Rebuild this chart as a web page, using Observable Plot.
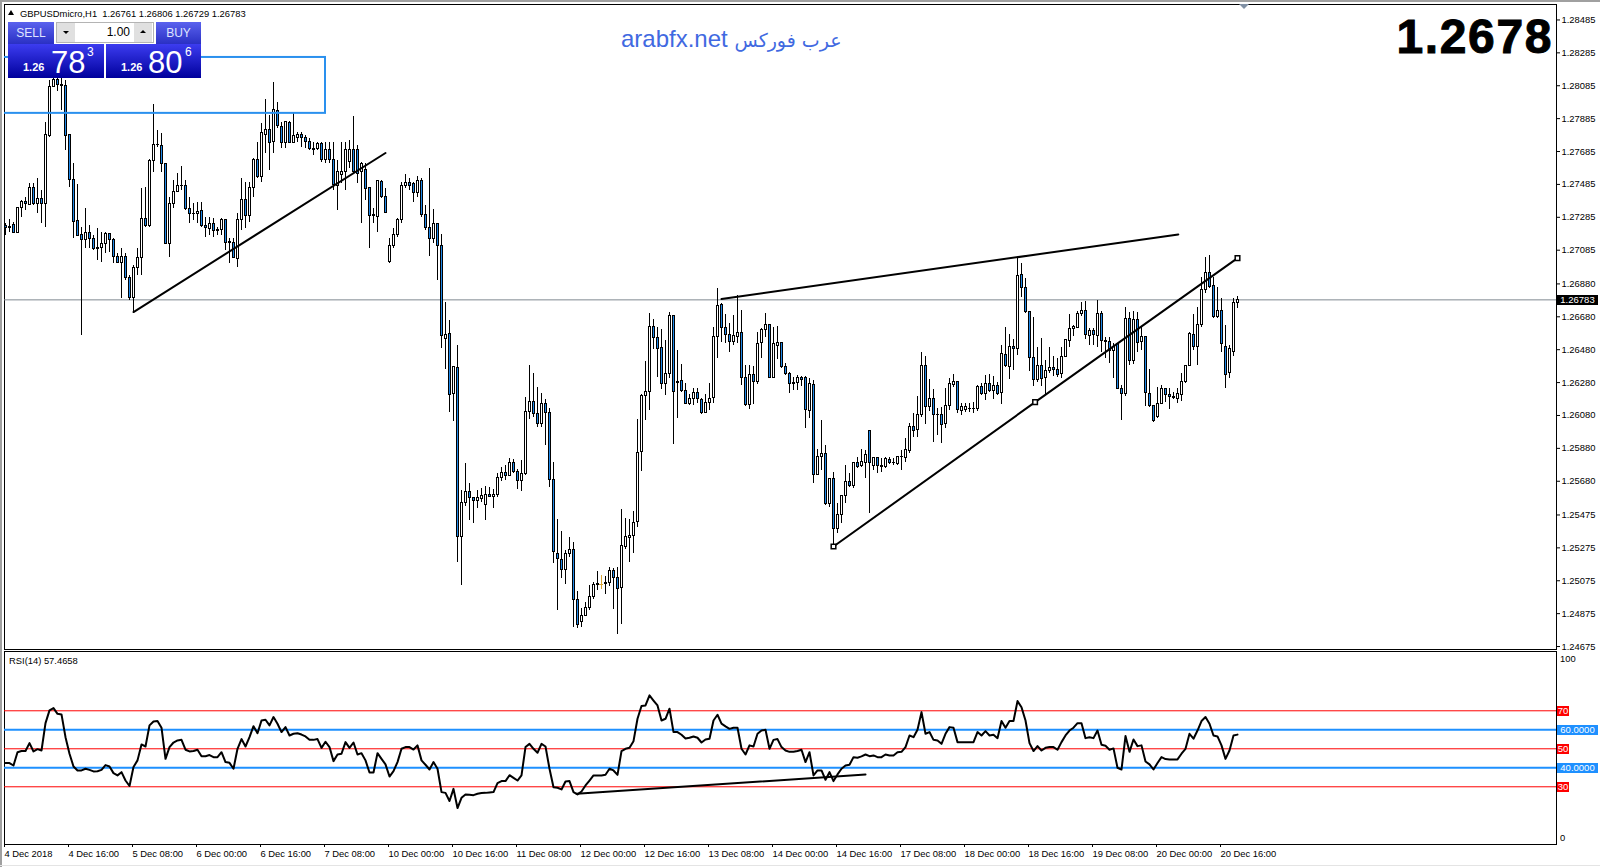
<!DOCTYPE html>
<html><head><meta charset="utf-8">
<script src="https://cdn.jsdelivr.net/npm/d3@7"></script>
<script src="https://cdn.jsdelivr.net/npm/@observablehq/plot@0.6"></script>
<style>
html,body{margin:0;padding:0;background:#fff;width:1600px;height:867px;overflow:hidden}
#wrap{position:relative;width:1600px;height:867px;font-family:"Liberation Sans",Arial,sans-serif;color:#000}
#wrap svg{position:absolute;left:0;background:transparent}
.abs{position:absolute;white-space:nowrap}
.tag{position:absolute;left:1557px;height:10px;line-height:10px;font-size:9.5px;color:#fff;text-align:center}
</style></head><body><div id="wrap"></div>
<script>
// Prices are written in 1e-5 units above 1 (26783 = 1.26783); one entry per H1 bar.
const openPts = [
27232,27226,27240,27189,27343,27376,27357,27465,27363,27396,
27363,27777,28077,28118,28087,28081,27783,27513,27260,27175,
27149,27191,27151,27090,27100,27120,27181,27145,27041,27007,
27041,26918,26794,26978,27039,27276,27232,27629,27726,27720,
27611,27120,27368,27441,27473,27477,27337,27303,27307,27323,
27232,27215,27246,27201,27205,27266,27130,27130,27033,27266,
27392,27295,27465,27635,27530,27787,27817,27742,27933,27834,
27736,27860,27736,27767,27785,27769,27745,27698,27698,27728,
27635,27696,27635,27473,27542,27562,27621,27692,27696,27560,
27574,27465,27293,27286,27497,27408,27013,27108,27179,27270,
27477,27493,27485,27434,27507,27301,27222,27155,27246,27112,
26547,26577,26212,26370,25341,25547,25616,25578,25560,25572,
25535,25598,25584,25596,25702,25732,25714,25793,25738,25683,
25724,26103,26164,26091,26028,26151,26097,25689,25239,25203,
25142,25239,25264,24960,24824,24862,24911,24978,25051,25055,
25055,25061,25136,25093,25031,25280,25335,25347,25432,25858,
26198,26222,26620,26553,26492,26273,26334,26686,26280,26291,
26230,26149,26180,26218,26176,26095,26155,26186,26557,26753,
26613,26571,26526,26557,26583,26309,26141,26328,26283,26520,
26601,26632,26309,26504,26522,26376,26334,26273,26279,26309,
26309,26110,26266,25721,25826,25847,25539,25691,25391,25476,
25591,25676,25650,25792,25770,25794,25987,25774,25822,25772,
25766,25810,25792,25786,25826,25822,25867,26011,25989,26080,
26382,26130,26179,26084,26084,26029,26137,26268,26283,26106,
26116,26122,26122,26118,26256,26212,26272,26228,26260,26216,
26449,26374,26495,26485,26935,26856,26710,26431,26293,26382,
26307,26351,26368,26358,26333,26435,26532,26607,26613,26696,
26716,26564,26595,26566,26698,26532,26528,26471,26516,26242,
26210,26666,26410,26658,26526,26558,26212,26137,26070,26151,
26240,26206,26191,26181,26204,26283,26380,26570,26495,26628,
26841,26948,26869,26678,26713,26494,26336,26463,26761];
const highPts = [
27246,27270,27256,27345,27388,27408,27493,27489,27520,27449,
27864,28118,28138,28142,28128,28118,27783,27611,27483,27226,
27337,27236,27175,27215,27195,27195,27185,27155,27063,27094,
27063,26932,26992,27094,27459,27469,27635,27972,27813,27793,
27611,27408,27509,27550,27591,27509,27408,27368,27378,27378,
27286,27286,27276,27226,27276,27270,27155,27155,27307,27520,
27499,27499,27641,27742,27854,28000,27905,28103,27986,27864,
27864,27870,27915,27803,27803,27783,27763,27742,27742,27742,
27742,27742,27742,27631,27742,27742,27753,27895,27722,27620,
27611,27465,27337,27509,27509,27459,27155,27215,27276,27497,
27546,27520,27499,27534,27520,27357,27580,27331,27246,27181,
26765,26658,26378,26506,25624,25787,25665,25584,25624,25635,
25649,25645,25629,25726,25766,25776,25817,25811,25750,25807,
26192,26385,26334,26249,26212,26176,26121,25793,25446,25375,
25260,25337,25306,25012,24905,24941,25045,25065,25132,25108,
25101,25154,25148,25156,25509,25452,25448,25497,26054,26205,
26409,26699,26664,26617,26603,26536,26705,26690,26476,26390,
26273,26208,26245,26245,26182,26208,26273,26617,26853,26760,
26695,26640,26688,26810,26719,26386,26384,26380,26587,26607,
26699,26632,26613,26622,26526,26395,26344,26309,26324,26317,
26317,26303,26293,25871,26049,25897,25695,25731,25543,25593,
25776,25725,25796,25826,25871,25867,25987,25826,25826,25816,
25826,25826,25816,25830,25867,25938,26033,26090,26195,26461,
26439,26297,26236,26120,26130,26242,26303,26327,26289,26151,
26151,26155,26157,26262,26272,26323,26327,26317,26283,26505,
26613,26572,26542,27043,27002,26911,26710,26674,26491,26546,
26414,26495,26439,26424,26495,26540,26694,26627,26712,26769,
26773,26607,26611,26779,26712,26556,26556,26516,26516,26262,
26739,26708,26712,26708,26613,26560,26357,26141,26248,26262,
26242,26242,26222,26242,26333,26380,26587,26694,26735,26922,
27043,27053,26922,26861,26790,26628,26506,26794,26806];
const lowPts = [
27175,27195,27185,27185,27286,27327,27355,27357,27307,27246,
27226,27769,28073,28047,27935,27692,27469,27155,27171,26567,
27094,27094,27084,27023,27013,27063,27074,27003,27003,26790,
26901,26780,26709,26932,26932,27226,27226,27560,27712,27560,
27124,27043,27337,27438,27449,27327,27246,27266,27246,27226,
27165,27175,27165,27175,27175,27084,27003,27033,26982,27205,
27215,27256,27408,27520,27499,27672,27570,27672,27824,27702,
27702,27732,27732,27742,27712,27702,27692,27661,27692,27621,
27615,27611,27449,27327,27493,27449,27580,27550,27489,27246,
27388,27094,27246,27195,27398,27307,27003,27094,27161,27250,
27459,27445,27378,27408,27286,27205,27047,27128,26901,26490,
26360,26101,26046,25189,25047,25527,25442,25426,25517,25549,
25442,25580,25515,25584,25681,25685,25710,25730,25631,25620,
25716,26058,26066,26004,26004,25898,25645,25179,24895,25087,
25053,25219,24793,24787,24793,24858,24895,24964,25016,25022,
24992,25041,24903,24749,24810,25266,25183,25243,25401,25740,
26050,26111,26482,26309,26238,26202,26303,25904,26060,26222,
26149,26141,26141,26151,26086,26090,26111,26151,26429,26524,
26516,26465,26506,26520,26265,26137,26119,26145,26269,26425,
26557,26309,26307,26419,26364,26324,26212,26232,26232,26258,
25999,26060,25664,25715,25745,25532,25522,25283,25360,25421,
25543,25644,25634,25760,25766,25695,25486,25745,25725,25735,
25755,25782,25776,25776,25745,25796,25847,25944,25948,26070,
26025,26106,25918,25958,25912,25999,26110,26252,26090,26080,
26100,26100,26090,26106,26201,26171,26222,26175,26201,26147,
26374,26299,26353,26445,26799,26702,26349,26258,26283,26258,
26201,26333,26317,26309,26303,26431,26495,26560,26607,26682,
26540,26505,26505,26495,26465,26424,26394,26303,26238,26049,
26195,26384,26390,26465,26475,26137,26130,26039,26060,26147,
26161,26116,26175,26151,26167,26272,26378,26475,26384,26618,
26820,26855,26668,26668,26463,26244,26306,26440,26729];
const closePts = [
27220,27222,27189,27343,27376,27368,27465,27363,27396,27363,
27783,28077,28118,28087,28081,27779,27509,27256,27171,27149,
27191,27153,27090,27100,27120,27181,27149,27043,27007,27041,
26918,26794,26978,27039,27276,27232,27629,27726,27722,27611,
27124,27368,27441,27473,27477,27335,27303,27307,27319,27232,
27217,27246,27201,27209,27266,27130,27134,27039,27266,27392,
27295,27465,27635,27530,27799,27817,27736,27939,27838,27736,
27862,27736,27777,27785,27767,27742,27698,27692,27728,27631,
27696,27635,27479,27562,27562,27692,27692,27560,27550,27611,
27459,27293,27299,27505,27408,27313,27110,27179,27266,27477,
27493,27477,27434,27505,27301,27222,27155,27246,27112,26561,
26571,26206,26372,25341,25547,25616,25578,25560,25578,25592,
25598,25584,25598,25702,25732,25714,25793,25736,25683,25726,
26103,26164,26089,26028,26151,26097,25689,25249,25207,25142,
25239,25264,24960,24806,24862,24911,24978,25051,25057,25055,
25059,25136,25091,25024,25288,25341,25349,25428,25854,26200,
26224,26620,26551,26484,26273,26334,26686,26222,26283,26228,
26149,26182,26218,26180,26095,26157,26182,26559,26747,26613,
26571,26526,26565,26583,26309,26141,26328,26283,26516,26601,
26632,26309,26516,26522,26374,26334,26273,26277,26309,26295,
26114,26272,25721,25826,25845,25543,25691,25391,25476,25591,
25676,25652,25792,25766,25798,25841,25790,25822,25772,25768,
25816,25792,25788,25826,25830,25871,26011,25987,26084,26382,
26130,26181,26084,26080,26023,26139,26272,26283,26114,26133,
26130,26118,26120,26256,26210,26272,26228,26260,26210,26455,
26378,26495,26485,26931,26854,26708,26431,26297,26382,26299,
26351,26368,26355,26327,26437,26536,26607,26617,26700,26716,
26568,26595,26568,26698,26532,26528,26475,26499,26242,26210,
26666,26410,26662,26522,26558,26216,26137,26045,26151,26240,
26206,26191,26185,26208,26283,26380,26576,26499,26629,26845,
26948,26861,26678,26713,26512,26324,26482,26761,26783];
const rsiValues = [
42.5,42.5,41.2,48.2,48.8,48.8,53.0,48.6,49.8,49.1,
63.5,70.2,71.4,68.4,68.1,56.1,47.4,40.7,38.6,38.6,
39.5,38.9,38.1,38.2,38.9,41.4,40.7,37.2,36.0,37.7,
33.3,30.4,40.4,43.9,52.3,51.2,62.3,64.4,64.6,61.1,
44.7,50.9,53.3,54.4,54.7,49.5,48.6,48.8,49.5,46.1,
46.1,46.7,45.6,45.6,48.2,43.0,42.6,39.5,50.0,55.1,
51.2,56.1,61.9,58.2,64.9,65.3,62.3,66.7,63.2,58.8,
61.4,57.0,57.9,58.2,57.5,56.5,54.7,54.7,55.1,50.5,
53.7,50.9,43.5,47.0,47.4,53.5,50.5,53.3,47.0,47.7,
43.9,37.5,37.5,47.7,44.7,41.8,35.4,38.2,43.0,
50.0,50.9,50.9,49.6,51.8,43.9,41.6,39.1,43.0,39.5,
27.2,26.8,22.5,28.9,18.8,24.2,26.0,25.8,25.6,26.3,
26.7,26.8,27.0,27.2,31.9,33.0,33.0,36.1,34.7,33.3,
36.0,50.9,52.6,50.0,47.9,52.6,51.2,39.5,29.8,29.5,
28.6,32.8,33.0,27.2,26.0,27.5,30.7,33.3,36.0,36.0,
36.0,36.3,39.5,38.6,36.3,48.8,50.0,50.5,54.0,65.8,
72.5,72.8,78.1,75.4,72.8,64.9,65.8,71.1,58.8,58.8,
57.4,55.4,55.8,56.5,55.8,53.3,54.9,55.3,64.9,67.9,
63.2,61.8,60.5,61.1,61.1,50.0,47.0,51.8,51.2,57.9,
59.6,60.0,50.0,54.7,55.1,50.9,49.1,48.4,48.4,48.8,
49.5,43.0,48.2,36.0,38.6,
38.6,33.7,37.7,33.0,36.5,39.5,41.2,41.6,45.6,45.3,
46.0,47.0,46.1,46.5,45.6,45.6,47.0,46.5,46.5,48.2,
48.4,50.9,57.0,56.1,60.0,69.3,57.9,58.8,54.7,54.4,
52.6,57.9,61.4,61.1,53.5,53.5,53.5,53.5,53.5,58.8,
57.0,59.3,57.0,57.4,55.6,64.6,61.1,64.6,64.6,75.1,
71.9,64.9,53.0,48.8,51.4,49.1,50.5,50.9,50.9,49.5,
53.5,57.0,59.6,61.1,63.5,63.5,55.6,56.1,55.6,59.6,
52.1,51.6,49.5,50.2,40.0,39.1,56.7,48.4,54.9,51.4,
51.8,43.3,41.8,39.1,42.5,45.6,44.6,44.4,44.4,44.4,
47.4,50.0,57.9,55.3,59.6,64.6,66.7,63.2,57.0,56.5,
51.8,44.7,49.1,57.0,57.4658];
const priceTicks = [1.28485,1.28285,1.28085,1.27885,1.27685,1.27485,1.27285,1.27085,1.26880,1.26680,1.26480,1.26280,1.26080,1.25880,1.25680,1.25475,1.25275,1.25075,1.24875,1.24675];
const timeLabels = ["4 Dec 2018","4 Dec 16:00","5 Dec 08:00","6 Dec 00:00","6 Dec 16:00","7 Dec 08:00","10 Dec 00:00","10 Dec 16:00","11 Dec 08:00","12 Dec 00:00","12 Dec 16:00","13 Dec 08:00","14 Dec 00:00","14 Dec 16:00","17 Dec 08:00","18 Dec 00:00","18 Dec 16:00","19 Dec 08:00","20 Dec 00:00","20 Dec 16:00"];
const barsPerLabel = 16;
const lastPrice = 1.26783;
const redLevels = [70,50,30];
const blueLevels = [60,40];
// Trend lines, as [bar, value]
const trendA = [[32,1.26709],[95,1.27676]];
const trendB = [[179,1.26788],[293.2,1.27181]];
const trendC = [[207,1.25283],[257.4,1.26161],[308,1.27037]];
const trendRsi = [[142.8,26.3],[215,36.5]];
const zone = {x1:-4,x2:80,y1:1.27917,y2:1.28257};

const FONT='"Liberation Sans",Arial,sans-serif';
const SMALL="9.4px";
const BLUE="#1e88e8", LEVEL="#1e90ff";
const p=v=>1+v/1e5;
const bars=closePts.map((c,i)=>({i,open:p(openPts[i]),high:p(highPts[i]),low:p(lowPts[i]),close:p(c)}));
const up=bars.filter(d=>d.close>d.open), down=bars.filter(d=>d.close<d.open), doji=bars.filter(d=>d.close===d.open);
const xOpts={type:"linear",domain:[-0.25,387.75]};
const candle=(data,fill)=>Plot.rect(data,{x1:d=>d.i-0.25,x2:d=>d.i+0.25,y1:"open",y2:"close",fill,stroke:"#000",strokeWidth:1,shapeRendering:"crispEdges"});
const pts=a=>a.map(([x,y])=>({x,y}));

const main=Plot.plot({
  width:1600,height:650,marginLeft:4,marginRight:44,marginTop:4,marginBottom:1,
  style:{fontFamily:FONT,fontSize:SMALL,background:"transparent",color:"#000",overflow:"visible"},
  x:{...xOpts,axis:null},
  y:{type:"linear",domain:[1.24657,1.28579],axis:null},
  marks:[
    Plot.frame({stroke:"#000"}),
    Plot.ruleY([lastPrice],{stroke:"#7f8890",strokeWidth:1}),
    Plot.ruleX(bars.filter(d=>d.close!==d.open),{x:"i",y1:"low",y2:"high",stroke:"#000",strokeWidth:1,shapeRendering:"crispEdges",clip:true}),
    Plot.ruleX(doji,{x:"i",y1:"low",y2:"high",stroke:"#d9a536",strokeWidth:1,shapeRendering:"crispEdges"}),
    Plot.ruleY(doji,{x1:d=>d.i-0.4,x2:d=>d.i+0.4,y:"close",stroke:"#d9a536",strokeWidth:1,shapeRendering:"crispEdges"}),
    candle(up,"#fff"),
    candle(down,BLUE),
    Plot.rect([zone],{x1:"x1",x2:"x2",y1:"y1",y2:"y2",fill:"none",stroke:"#2a90ee",strokeWidth:2,clip:true}),
    Plot.line(pts(trendA),{x:"x",y:"y",stroke:"#000",strokeWidth:2}),
    Plot.line(pts(trendB),{x:"x",y:"y",stroke:"#000",strokeWidth:2}),
    Plot.line(pts(trendC),{x:"x",y:"y",stroke:"#000",strokeWidth:2}),
    Plot.dot(pts(trendC),{x:"x",y:"y",symbol:"square",r:2.6,fill:"#fff",stroke:"#000",strokeWidth:1.5}),
    Plot.axisY(priceTicks,{anchor:"right",tickSize:3,tickPadding:2,tickFormat:d=>d.toFixed(5),label:null,fill:"#000",stroke:"#000"})
  ]
});
const rsiData=rsiValues.map((v,i)=>({i,v}));
const rsi=Plot.plot({
  width:1600,height:217,marginLeft:4,marginRight:44,marginTop:1,marginBottom:23,
  style:{fontFamily:FONT,fontSize:SMALL,background:"transparent",color:"#000",overflow:"visible"},
  x:{...xOpts,axis:null},
  y:{type:"linear",domain:[-0.37,101.2],axis:null},
  marks:[
    Plot.frame({stroke:"#000"}),
    Plot.ruleY(redLevels,{stroke:"#f00",strokeWidth:1}),
    Plot.ruleY(blueLevels,{stroke:LEVEL,strokeWidth:2}),
    Plot.line(rsiData,{x:"i",y:"v",stroke:"#000",strokeWidth:2}),
    Plot.line(pts(trendRsi),{x:"x",y:"y",stroke:"#000",strokeWidth:2}),
    Plot.axisX(timeLabels.map((_,k)=>k*barsPerLabel),{anchor:"bottom",tickSize:3,tickPadding:3,textAnchor:"start",dx:-1,tickFormat:d=>timeLabels[d/barsPerLabel],label:null,fill:"#000",stroke:"#000"})
  ]
});
const wrap=document.getElementById("wrap");
main.style.top="0px"; rsi.style.top="650px";
wrap.append(main,rsi);

const add=(html,css,cls="abs")=>{const e=document.createElement("div");e.className=cls;e.style.cssText=css;e.innerHTML=html;wrap.appendChild(e);return e;};
// window chrome
add("","left:0;top:0;width:1600px;height:2px;background:#a0a0a0");
add("","left:0;top:0;width:2px;height:867px;background:#a0a0a0");
add("","left:0;top:865px;width:1600px;height:1px;background:#e4e4e4");
// header and watermark texts
add("","left:8px;top:10px;width:0;height:0;border-left:3.5px solid transparent;border-right:3.5px solid transparent;border-bottom:5px solid #000");
add("GBPUSDmicro,H1&nbsp;&nbsp;1.26761 1.26806 1.26729 1.26783","left:20px;top:6.5px;font-size:9.4px;line-height:13px");
add('arabfx.net <span style="font-family:\'DejaVu Sans\';font-size:19px">عرب فوركس</span>',"left:621px;top:25px;font-size:24px;line-height:28px;color:#4169e1");
add("1.2678",'right:47px;top:10px;font-size:48px;line-height:54px;font-weight:bold;letter-spacing:1.6px;-webkit-text-stroke:1px #000');
add("","left:1239px;top:4px;width:0;height:0;border-left:5px solid transparent;border-right:5px solid transparent;border-top:5px solid #8090a4");
add("RSI(14) 57.4658","left:9px;top:654px;font-size:9.4px;line-height:13px");
// one-click trading panel
const hd="background:linear-gradient(#5a62ee,#2a30c4);color:#dfe4ff;text-align:center;font-size:12px;line-height:22px;height:22px;top:22px";
const px="background:linear-gradient(#3c3cf0,#00009c);color:#fff;top:44px;height:34px";
add("","left:8px;top:22px;width:193px;height:56px;background:#fff");
add("SELL",hd+";left:8px;width:46px");
add("BUY",hd+";left:156px;width:45px");
add("",px+";left:8px;width:96px");
add("",px+";left:106px;width:95px");
add("","left:56px;top:22px;width:96px;height:19px;background:#fff;border:1px solid #b4b4b4");
add("","left:57px;top:23px;width:18px;height:19px;background:#e0e0e0");
add("","left:134px;top:23px;width:18px;height:19px;background:#e0e0e0");
add("","left:63px;top:31px;width:0;height:0;border-left:3px solid transparent;border-right:3px solid transparent;border-top:3px solid #000");
add("","left:140px;top:30px;width:0;height:0;border-left:3px solid transparent;border-right:3px solid transparent;border-bottom:3px solid #000");
add("1.00","left:100px;top:24px;width:30px;text-align:right;font-size:12px;line-height:16px");
const lab=(t,l,top,fs,w)=>add(t,`left:${l}px;top:${top}px;font-size:${fs}px;line-height:${fs+2}px;color:#fff;font-weight:${w}`);
lab("1.26",23,61,11,"bold"); lab("78",51,46,31,"normal"); lab("3",87,45,12,"normal");
lab("1.26",121,61,11,"bold"); lab("80",148,46,31,"normal"); lab("6",185,45,12,"normal");
// value tags on the right scales
const tag=(plot,top0,v,text,bg,w)=>{const y=top0+plot.scale("y").apply(v);add(text,`top:${y-4.5}px;width:${w}px;background:${bg}`,"tag");};
tag(main,0,lastPrice,lastPrice.toFixed(5),"#000",41);
redLevels.forEach(v=>tag(rsi,650,v,String(v),"#f00",12));
blueLevels.forEach(v=>tag(rsi,650,v,v.toFixed(4),LEVEL,41));
add("100","left:1560px;top:652px;font-size:9.4px;line-height:13px");
add("0","left:1560px;top:831px;font-size:9.4px;line-height:13px");
</script></body></html>
